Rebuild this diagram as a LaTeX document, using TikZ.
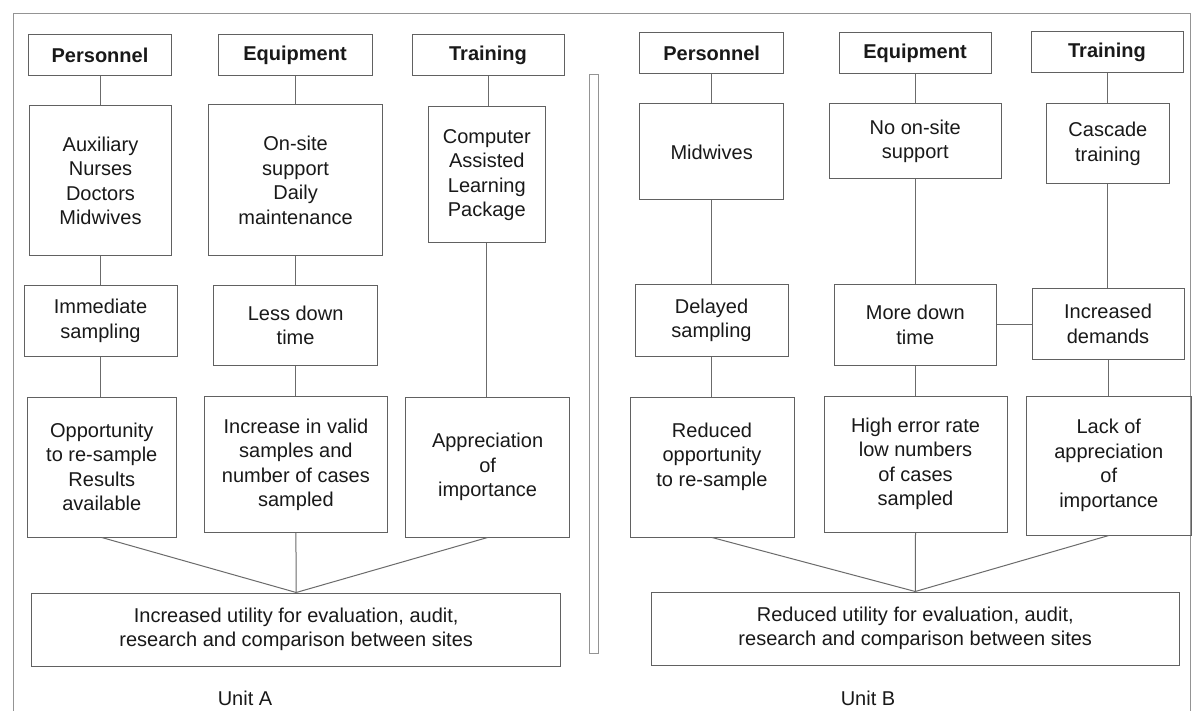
\documentclass[tikz,border=0pt]{standalone}
\usepackage{fontspec}
\setmainfont{Liberation Sans}
\begin{document}
\begin{tikzpicture}[x=1pt,y=-1pt,
  box/.style={draw=black!62, line width=1pt, inner sep=0pt, align=center,
    text=black!90, font=\fontsize{20}{24.5}\selectfont},
  head/.style={box, font=\fontsize{20}{24.5}\selectfont\bfseries},
  link/.style={draw=black!58, line width=1pt},
  frame/.style={draw=black!42, line width=1pt}]
\useasboundingbox (0,0) rectangle (1194,711);
\fill[white] (0,0) rectangle (1194,711);

% outer frame and the divider between the two units
\draw[frame] (13,711) -- (13,14) -- (1190,14) -- (1190,711);
\draw[frame] (589,75) rectangle (598,653);

% ---------- Unit A ----------
\node[head, minimum width=143pt, minimum height=41pt] (pA) at (100,55.5) {Personnel};
\node[head, minimum width=154pt, minimum height=41pt] (eA) at (295,55.5) {Equipment};
\node[head, minimum width=152pt, minimum height=41pt] (tA) at (488,55.5) {Training};

\node[box, minimum width=142.5pt, minimum height=150pt] (staffA) at (100.5,181)
  {Auxiliary\\Nurses\\Doctors\\Midwives};
\node[box, minimum width=174pt, minimum height=151pt] (supA) at (295.6,180.5)
  {On-site\\support\\Daily\\maintenance};
\node[box, minimum width=116.4pt, minimum height=136pt] (calA) at (486.8,175)
  {Computer\\Assisted\\Learning\\Package};

\node[box, minimum width=153pt, minimum height=70pt] (sampA) at (100.5,321)
  {Immediate\\sampling};
\node[box, minimum width=164pt, minimum height=79pt] (downA) at (295.6,325.5)
  {Less down\\time};

\node[box, minimum width=148.4pt, minimum height=140pt] (oppA) at (101.8,467)
  {Opportunity\\to re-sample\\Results\\available};
\node[box, minimum width=183.7pt, minimum height=135.7pt] (incA) at (295.9,464.8)
  {Increase in valid\\samples and\\number of cases\\sampled};
\node[box, minimum width=163.8pt, minimum height=140pt] (appA) at (487.6,467)
  {Appreciation\\of\\importance};

\node[box, minimum width=529pt, minimum height=73pt] (resA) at (296.2,629.5)
  {Increased utility for evaluation, audit,\\research and comparison between sites};
\node[font=\fontsize{20}{24}\selectfont, text=black!90] (unitA) at (245,698) {Unit A};

\draw[link] (pA.south) -- (pA.south |- staffA.north);
\draw[link] (eA.south) -- (eA.south |- supA.north);
\draw[link] (tA.south) -- (tA.south |- calA.north);
\draw[link] (staffA.south) -- (staffA.south |- sampA.north);
\draw[link] (supA.south) -- (supA.south |- downA.north);
\draw[link] (calA.south) -- (calA.south |- appA.north);
\draw[link] (sampA.south) -- (sampA.south |- oppA.north);
\draw[link] (downA.south) -- (downA.south |- incA.north);
\draw[link] (oppA.south) -- (resA.north);
\draw[link] (incA.south) -- (resA.north);
\draw[link] (appA.south) -- (resA.north);

% ---------- Unit B ----------
\node[head, minimum width=143.5pt, minimum height=41pt] (pB) at (711.7,53.5) {Personnel};
\node[head, minimum width=152pt, minimum height=41pt] (eB) at (915,53.5) {Equipment};
\node[head, minimum width=152pt, minimum height=41pt] (tB) at (1107,52.5) {Training};

\node[box, minimum width=143.5pt, minimum height=96pt] (staffB) at (711.7,152) {Midwives};
\node[box, minimum width=172.6pt, minimum height=75pt] (supB) at (915.3,141.5)
  {No on-site\\support};
\node[box, minimum width=122.3pt, minimum height=80pt] (casB) at (1107.9,144)
  {Cascade\\training};

\node[box, minimum width=153pt, minimum height=71pt] (sampB) at (711.5,320.5)
  {Delayed\\sampling};
\node[box, minimum width=162.6pt, minimum height=80pt] (downB) at (915.3,325)
  {More down\\time};
\node[box, minimum width=152pt, minimum height=70pt] (demB) at (1108,324)
  {Increased\\demands};

\node[box, minimum width=164pt, minimum height=140pt] (oppB) at (712,467)
  {Reduced\\opportunity\\to re-sample\\\mbox{}};
\node[box, minimum width=183pt, minimum height=136pt] (errB) at (915.5,464)
  {High error rate\\low numbers\\of cases\\sampled};
\node[box, minimum width=164.5pt, minimum height=139pt] (lackB) at (1108.75,465.5)
  {Lack of\\appreciation\\of\\importance};

\node[box, minimum width=528.5pt, minimum height=73pt] (resB) at (915.25,628.5)
  {Reduced utility for evaluation, audit,\\research and comparison between sites};
\node[font=\fontsize{20}{24}\selectfont, text=black!90] (unitB) at (868,698) {Unit B};

\draw[link] (pB.south) -- (pB.south |- staffB.north);
\draw[link] (eB.south) -- (eB.south |- supB.north);
\draw[link] (tB.south) -- (tB.south |- casB.north);
\draw[link] (staffB.south) -- (staffB.south |- sampB.north);
\draw[link] (supB.south) -- (supB.south |- downB.north);
\draw[link] (casB.south) -- (casB.south |- demB.north);
\draw[link] (downB.east) -- (downB.east -| demB.west);
\draw[link] (sampB.south) -- (sampB.south |- oppB.north);
\draw[link] (downB.south) -- (downB.south |- errB.north);
\draw[link] (demB.south) -- (demB.south |- lackB.north);
\draw[link] (oppB.south) -- (resB.north);
\draw[link] (errB.south) -- (resB.north);
\draw[link] (lackB.south) -- (resB.north);
\end{tikzpicture}
\end{document}
